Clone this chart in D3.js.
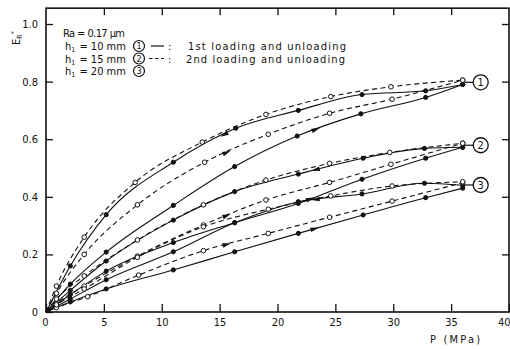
<!DOCTYPE html>
<html><head><meta charset="utf-8">
<script src="https://cdn.jsdelivr.net/npm/d3@7"></script>
<style>
body{margin:0;background:#fff}
svg{display:block}
text{font-family:"DejaVu Sans Condensed","DejaVu Sans",sans-serif;fill:#111}
</style>
</head><body><svg id="c" width="510" height="349"></svg>
<script>
// ---- data ----
const xTicks = [0,5,10,15,20,25,30,35,40];
const yTicks = [0,0.2,0.4,0.6,0.8,1.0];
const yTickLabels = ["0","0.2","0.4","0.6","0.8","1.0"];
const groupNames = ["1","2","3"];
const heights = ["10","15","20"];

// h1 = 10 mm
const h10_load1   = [[0,0],[2.1,0.097],[5.2,0.208],[11.0,0.37],[16.3,0.505],[21.7,0.611],[27.2,0.688],[32.8,0.745],[36,0.79]];
const h10_unload1 = [[0,0],[2.1,0.16],[5.2,0.338],[11.0,0.52],[16.4,0.638],[21.8,0.70],[27.3,0.755],[32.8,0.768],[36,0.79]];
const h10_load2   = [[0,0],[0.9,0.065],[3.3,0.20],[7.9,0.372],[13.7,0.52],[19.2,0.617],[24.5,0.69],[29.9,0.739],[36,0.805]];
const h10_unload2 = [[0,0],[0.9,0.09],[3.3,0.26],[7.7,0.45],[13.5,0.59],[19.0,0.686],[24.6,0.748],[29.8,0.782],[36,0.805]];
// h1 = 15 mm
const h15_load1   = [[0,0],[2.1,0.06],[5.2,0.142],[11.0,0.241],[16.3,0.31],[21.8,0.377],[27.3,0.461],[32.8,0.534],[36,0.572]];
const h15_unload1 = [[0,0],[2.1,0.075],[5.2,0.177],[11.0,0.319],[16.3,0.418],[21.8,0.479],[27.4,0.534],[32.7,0.568],[36,0.572]];
const h15_load2   = [[0,0],[0.9,0.03],[3.3,0.09],[7.9,0.194],[13.6,0.302],[19.0,0.389],[24.5,0.45],[29.8,0.513],[36,0.586]];
const h15_unload2 = [[0,0],[0.9,0.045],[3.3,0.125],[7.9,0.25],[13.6,0.372],[19.0,0.458],[24.5,0.516],[29.7,0.554],[36,0.586]];
// h1 = 20 mm
const h20_load1   = [[0,0],[2.1,0.035],[5.2,0.08],[11.0,0.146],[16.3,0.209],[21.8,0.273],[27.4,0.337],[32.8,0.397],[36,0.43]];
const h20_unload1 = [[0,0],[2.1,0.045],[5.2,0.112],[11.0,0.209],[16.3,0.31],[21.8,0.383],[27.3,0.41],[32.7,0.447],[36,0.44]];
const h20_load2   = [[0,0],[0.9,0.015],[3.6,0.053],[8.0,0.128],[13.6,0.213],[19.2,0.273],[24.5,0.329],[29.9,0.385],[36,0.449]];
const h20_unload2 = [[0,0],[0.9,0.025],[3.3,0.08],[7.9,0.19],[13.6,0.296],[19.2,0.357],[24.6,0.403],[29.9,0.4375],[36,0.452]];

const series = [
  {g:0, cycle:1, dir: 1, pts:h10_load1},  {g:0, cycle:1, dir:-1, pts:h10_unload1},
  {g:0, cycle:2, dir: 1, pts:h10_load2},  {g:0, cycle:2, dir:-1, pts:h10_unload2},
  {g:1, cycle:1, dir: 1, pts:h15_load1},  {g:1, cycle:1, dir:-1, pts:h15_unload1},
  {g:1, cycle:2, dir: 1, pts:h15_load2},  {g:1, cycle:2, dir:-1, pts:h15_unload2},
  {g:2, cycle:1, dir: 1, pts:h20_load1},  {g:2, cycle:1, dir:-1, pts:h20_unload1},
  {g:2, cycle:2, dir: 1, pts:h20_load2},  {g:2, cycle:2, dir:-1, pts:h20_unload2}
];
// arrowheads: series index, pressure
const arrowSeries = [1,2,0,5,4,9,8,6,10];
const arrowP      = [15.4,15.6,23.3,23.3,22.8,23.3,23.2,15.6,15.6];

// ---- chart ----
const svg = d3.select("#c");
const x = d3.scaleLinear().domain([0,40]).range([46,509]);
const y = d3.scaleLinear().domain([0,1]).range([312,24]);
const yMax = 1.055;

// frame
svg.append("rect").attr("x",x(0)).attr("y",y(yMax)).attr("width",x(40)-x(0)).attr("height",y(0)-y(yMax))
  .attr("fill","none").attr("stroke","#111").attr("stroke-width",1.6);

const fs = "11px";
const gx = svg.append("g").attr("transform",`translate(0,${y(0)})`)
  .call(d3.axisBottom(x).tickValues(xTicks).tickFormat(d3.format("d")).tickSizeInner(-8).tickSizeOuter(0).tickPadding(6));
const gy = svg.append("g").attr("transform",`translate(${x(0)},0)`)
  .call(d3.axisLeft(y).tickValues(yTicks).tickFormat((d,i)=>yTickLabels[i]).tickSizeInner(-7).tickSizeOuter(0).tickPadding(8));
const gt = svg.append("g").attr("transform",`translate(0,${y(yMax)})`)
  .call(d3.axisTop(x).tickValues(xTicks.slice(1,-1)).tickFormat("").tickSizeInner(-7).tickSizeOuter(0));
const gr = svg.append("g").attr("transform",`translate(${x(40)},0)`)
  .call(d3.axisRight(y).tickValues(yTicks.slice(1)).tickFormat("").tickSizeInner(-7).tickSizeOuter(0));
[gx,gy,gt,gr].forEach(g=>{
  g.select(".domain").remove();
  g.selectAll(".tick line").attr("stroke","#111").attr("stroke-width",1.3);
  g.selectAll(".tick text").attr("font-size",fs).attr("font-family",null).attr("fill","#111");
});
gx.select(".tick text").attr("dx","-1");
gx.selectAll(".tick text").filter(d=>d===40).attr("text-anchor","end").attr("dx","1");

// axis titles
svg.append("text").attr("x",430).attr("y",343).attr("font-size","11px")
  .attr("textLength",50).attr("lengthAdjust","spacing").text("P  (MPa)");
const yl = svg.append("text").attr("transform","translate(20,45) rotate(-90)").attr("font-size","11px");
yl.append("tspan").text("E");
yl.append("tspan").attr("font-size","7px").attr("dy","2").text("R");
yl.append("tspan").attr("font-size","7px").attr("dy","-6").text("*");

// curves
const line = d3.line().x(d=>x(d[0])).y(d=>y(d[1])).curve(d3.curveMonotoneX);
const plot = svg.append("g");
series.forEach(s=>{
  plot.append("path").attr("d",line(s.pts)).attr("fill","none").attr("stroke","#111")
    .attr("stroke-width",1.1).attr("stroke-dasharray",s.cycle===2?"5,3.5":null);
});
series.forEach(s=>{
  plot.selectAll(null).data(s.pts.slice(1)).enter().append("circle")
    .attr("cx",d=>x(d[0])).attr("cy",d=>y(d[1])).attr("r",s.cycle===2?2.3:2.1)
    .attr("fill",s.cycle===2?"#fff":"#111").attr("stroke","#111").attr("stroke-width",1);
});
// arrowheads
function interp(pts,p){
  const i = Math.max(1,d3.bisector(d=>d[0]).left(pts,p));
  const a=pts[i-1], b=pts[i]; const t=(p-a[0])/(b[0]-a[0]);
  return a[1]+t*(b[1]-a[1]);
}
arrowSeries.forEach((si,k)=>{
  const s=series[si], p=arrowP[k];
  const x0=x(p-0.5), y0=y(interp(s.pts,p-0.5)), x1=x(p+0.5), y1=y(interp(s.pts,p+0.5));
  let ang=Math.atan2(y1-y0,x1-x0)*180/Math.PI; if(s.dir<0) ang+=180;
  plot.append("path").attr("d","M4.5,0L-4,-2.3L-4,2.3Z").attr("fill","#111")
    .attr("transform",`translate(${x(p)},${y(interp(s.pts,p))}) rotate(${ang})`);
});

// group labels at right ends
groupNames.forEach((n,gi)=>{
  const ss = series.filter(s=>s.g===gi);
  const ends = [ss[0].pts[ss[0].pts.length-1][1], ss[3].pts[ss[3].pts.length-1][1]];
  const cy = y(d3.mean(ends)), xe = x(36);
  const cx = xe + 18;
  svg.append("line").attr("x1",xe+2).attr("x2",cx-7.5).attr("y1",cy).attr("y2",cy).attr("stroke","#111").attr("stroke-width",1.2);
  svg.append("circle").attr("cx",cx).attr("cy",cy).attr("r",7.5).attr("fill","#fff").attr("stroke","#111").attr("stroke-width",1.3);
  svg.append("text").attr("x",cx).attr("y",cy+4).attr("text-anchor","middle").attr("font-size","11px").text(n);
});

// legend
const lg = svg.append("g");
lg.append("text").attr("x",63).attr("y",37).attr("font-size","11px")
  .attr("textLength",62).attr("lengthAdjust","spacing").text("Ra  = 0.17  μm");
const rows=[50,62.5,75];
heights.forEach((h,i)=>{
  const t = lg.append("text").attr("x",65).attr("y",rows[i]).attr("font-size","11px");
  t.append("tspan").text("h");
  t.append("tspan").attr("font-size","7px").attr("dy","2").text("1");
  t.append("tspan").attr("dy","-2").attr("dx","1").text(` =  ${h}   mm`);
  const cy = rows[i]-4;
  lg.append("circle").attr("cx",139).attr("cy",cy).attr("r",5.5).attr("fill","none").attr("stroke","#111").attr("stroke-width",1.2);
  lg.append("text").attr("x",139).attr("y",cy+3.3).attr("text-anchor","middle").attr("font-size","9px").text(groupNames[i]);
});
lg.append("line").attr("x1",151).attr("x2",164).attr("y1",46).attr("y2",46).attr("stroke","#111").attr("stroke-width",1.2);
lg.append("text").attr("x",168).attr("y",50).attr("font-size","11px").text(":");
lg.append("text").attr("x",188).attr("y",50).attr("font-size","11px")
  .attr("textLength",158).attr("lengthAdjust","spacing").text("1st loading and  unloading");
lg.append("line").attr("x1",149).attr("x2",164).attr("y1",58.5).attr("y2",58.5).attr("stroke","#111").attr("stroke-width",1.2).attr("stroke-dasharray","3.5,2.5");
lg.append("text").attr("x",168).attr("y",62.5).attr("font-size","11px").text(":");
lg.append("text").attr("x",186).attr("y",62.5).attr("font-size","11px")
  .attr("textLength",159).attr("lengthAdjust","spacing").text("2nd loading and  unloading");
</script>
</body></html>
